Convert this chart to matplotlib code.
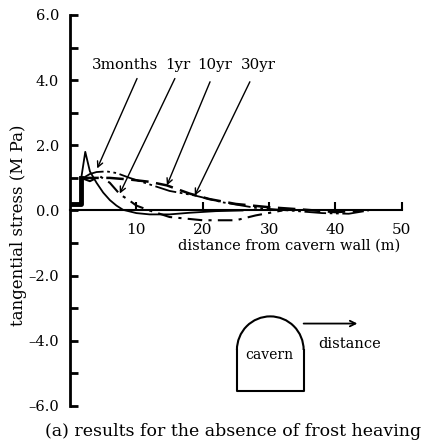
"""Tangential stress vs distance from cavern wall (no frost heaving)."""
import numpy as np
import matplotlib
matplotlib.use('Agg')
import matplotlib.pyplot as plt
from matplotlib.patches import Arc

plt.rcParams['font.family'] = ['DejaVu Serif']

# --- data (distance m, stress MPa) ---
x_3m = [0, 1.7, 1.7, 2.3, 3.0, 4.0, 5.0, 6.0, 7.0, 8.0, 10, 12, 15, 18, 22, 26]
y_3m = [0.2, 0.2, 1.0, 1.8, 1.2, 0.85, 0.55, 0.32, 0.15, 0.02, -0.08, -0.12, -0.12, -0.07, -0.02, 0.0]

x_1y = [1.7, 3.0, 4.5, 6.0, 7.5, 9.0, 10, 12, 15, 20, 25, 28, 32]
y_1y = [1.0, 0.9, 1.05, 0.85, 0.5, 0.3, 0.15, 0.0, -0.2, -0.3, -0.3, -0.15, 0.0]

x_10y = [1.7, 4, 6, 9, 12, 14.6, 18, 21, 25, 30, 35, 40, 44]
y_10y = [1.0, 1.0, 1.0, 0.95, 0.88, 0.77, 0.52, 0.35, 0.2, 0.1, 0.03, -0.05, 0.0]

x_30y = [2.0, 3.0, 4.0, 5.5, 7, 9, 12, 15, 18.8, 23, 28, 33, 38, 42, 45]
y_30y = [1.0, 1.12, 1.18, 1.2, 1.15, 1.0, 0.8, 0.6, 0.46, 0.25, 0.08, 0.0, -0.08, -0.1, 0.0]

labels = ['3months', '1yr', '10yr', '30yr']
label_x = [8.3, 16.3, 21.8, 28.4]
arrow_start = [(10.1, 4.05), (15.8, 4.05), (21.1, 3.95), (27.1, 3.95)]
arrow_end = [(4.1, 1.29), (7.5, 0.52), (14.6, 0.77), (18.8, 0.46)]

fig = plt.figure(figsize=(4.31, 4.46), dpi=100)
ax = fig.add_axes([0.1624, 0.0897, 0.770, 0.8767])
ax.set_xlim(0, 50)
ax.set_ylim(-6, 6)

ax.plot(x_3m[:3], y_3m[:3], color='black', lw=3.5)
ax.plot(x_3m, y_3m, color='black', lw=1.3)
ax.plot(x_1y, y_1y, color='black', lw=1.5, dashes=(7, 3, 1.5, 3))
ax.plot(x_10y, y_10y, color='black', lw=1.8, dashes=(7, 3))
ax.plot(x_30y, y_30y, color='black', lw=1.3, dashes=(12, 2, 1.5, 2, 1.5, 2))

for lab, lx in zip(labels, label_x):
    ax.text(lx, 4.45, lab, ha='center', va='center', fontsize=10.8)
for s, e in zip(arrow_start, arrow_end):
    ax.annotate('', xy=e, xytext=s,
                arrowprops=dict(arrowstyle='->', color='black', lw=1.0,
                                shrinkA=0, shrinkB=0))

# axes styling
for side in ['top', 'right']:
    ax.spines[side].set_visible(False)
ax.spines['left'].set_position(('data', 0))
ax.spines['bottom'].set_position(('data', 0))
ax.spines['left'].set_linewidth(2)
ax.spines['bottom'].set_linewidth(1.5)

ax.set_yticks(np.arange(-6, 7, 2))
ax.set_yticks(np.arange(-5, 6, 2), minor=True)
ax.set_yticklabels([f'{v:.1f}'.replace('-', '\u2013') for v in np.arange(-6, 7, 2)],
                   fontsize=10.5)
ax.set_xticks([10, 20, 30, 40, 50])
ax.set_xticklabels(['10', '20', '30', '40', '50'], fontsize=11)
ax.tick_params(axis='y', which='both', direction='in', length=6, width=2, pad=8)
ax.tick_params(axis='x', direction='in', length=6, width=1.5, pad=9)

ax.text(33, -1.07, 'distance from cavern wall (m)', ha='center', va='center',
        fontsize=10.5)
fig.text(0.042, 0.495, 'tangential stress (M Pa)', rotation=90, ha='center',
         va='center', fontsize=12)

# cavern inset
cl, cr, cb, cs = 25.15, 35.2, -5.55, -4.28
ax.plot([cl, cl, cr, cr], [cs, cb, cb, cs], color='black', lw=1.5)
ax.add_patch(Arc(((cl + cr) / 2, cs), cr - cl, 2 * 1.03, theta1=0, theta2=180,
                 color='black', lw=1.5))
ax.text(30.1, -4.45, 'cavern', ha='center', va='center', fontsize=10)
ax.annotate('', xy=(43.3, -3.47), xytext=(cr, -3.47),
            arrowprops=dict(arrowstyle='->', color='black', lw=1.3,
                            shrinkA=0, shrinkB=0))
ax.text(42.2, -4.1, 'distance', ha='center', va='center', fontsize=10.5)

fig.text(0.54, 0.032, '(a) results for the absence of frost heaving',
         ha='center', va='center', fontsize=12.5)

fig.savefig('out.png', dpi=100)
